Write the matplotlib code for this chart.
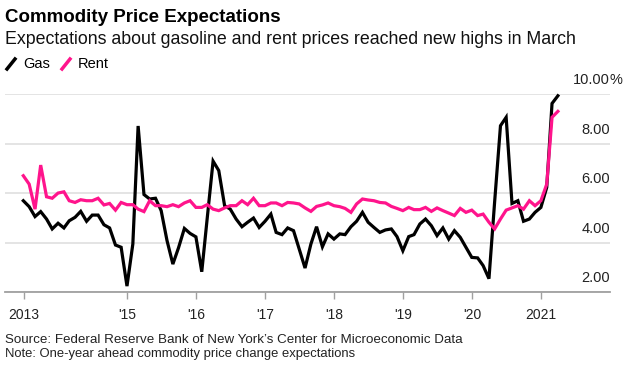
import matplotlib
matplotlib.use("Agg")
import matplotlib.pyplot as plt
import matplotlib.transforms as mtransforms
from matplotlib.lines import Line2D
import pandas as pd

plt.rcParams['font.family'] = ['Liberation Sans', 'DejaVu Sans']

# Expectativas mensais (fim de mês), jun/2013 a mar/2021
datas = pd.date_range('2013-06-30', '2021-03-31', freq='ME')

gas = [5.70, 5.46, 5.06, 5.26, 4.96, 4.56, 4.79, 4.60, 4.89, 5.03,
       5.27, 4.87, 5.12, 5.12, 4.73, 4.60, 3.91, 3.82, 2.25, 3.95,
       8.72, 5.95, 5.77, 5.80, 5.30, 4.09, 3.14, 3.80, 4.58, 4.38,
       4.24, 2.83, 5.00, 7.30, 6.92, 5.50, 5.36, 4.96, 4.65, 4.83,
       5.00, 4.62, 4.87, 5.16, 4.42, 4.33, 4.60, 4.49, 3.75, 2.98,
       3.95, 4.65, 3.84, 4.36, 4.15, 4.36, 4.33, 4.65, 4.87, 5.23,
       4.83, 4.62, 4.42, 4.52, 4.56, 4.25, 3.68, 4.25, 4.33, 4.76,
       4.96, 4.69, 4.29, 4.60, 4.15, 4.49, 4.22, 3.82, 3.41, 3.39,
       3.08, 2.55, 5.65, 8.73, 9.07, 5.59, 5.70, 4.87, 4.96, 5.23,
       5.43, 6.24, 9.63, 9.94]

rent = [6.71, 6.37, 5.36, 7.14, 5.86, 5.80, 6.01, 6.06, 5.70, 5.63,
        5.74, 5.70, 5.70, 5.80, 5.53, 5.59, 5.32, 5.63, 5.54, 5.54,
        5.36, 5.26, 5.70, 5.50, 5.50, 5.46, 5.54, 5.46, 5.61, 5.70,
        5.43, 5.43, 5.54, 5.36, 5.30, 5.41, 5.50, 5.50, 5.70, 5.54,
        5.80, 5.50, 5.50, 5.61, 5.61, 5.50, 5.63, 5.61, 5.57, 5.41,
        5.27, 5.47, 5.53, 5.61, 5.50, 5.46, 5.39, 5.23, 5.57, 5.77,
        5.73, 5.70, 5.63, 5.61, 5.47, 5.39, 5.30, 5.43, 5.34, 5.34,
        5.43, 5.27, 5.41, 5.30, 5.20, 5.10, 5.39, 5.23, 5.32, 5.10,
        5.16, 4.83, 4.56, 4.96, 5.32, 5.41, 5.50, 5.36, 5.70, 5.50,
        5.70, 6.37, 9.07, 9.31]

ticks_x = ['2013-07-01', '2015-01-01', '2016-01-01', '2017-01-01',
           '2018-01-01', '2019-01-01', '2020-01-01', '2021-01-01']
rotulos_x = ['2013', "'15", "'16", "'17", "'18", "'19", "'20", '2021']
ticks_y = [2, 4, 6, 8, 10]
rotulos_y = ['2.00', '4.00', '6.00', '8.00', '10.00']

cor_gas = 'black'
cor_rent = '#ff148c'

W, H = 634, 386
fig = plt.figure(figsize=(W / 100, H / 100), dpi=100)
ax = fig.add_axes([5 / W, 1 - 292.3 / H, 605 / W, 198 / H])

ax.plot(datas, gas, color=cor_gas, lw=2.3, solid_joinstyle='miter', clip_on=False, zorder=3)
ax.plot(datas, rent, color=cor_rent, lw=2.3, solid_joinstyle='miter', clip_on=False, zorder=4)

ax.set_xlim(pd.Timestamp('2013-03-25'), pd.Timestamp('2022-01-01'))
ax.set_ylim(2, 10)

for s in ['top', 'left', 'right']:
    ax.spines[s].set_visible(False)
ax.spines['bottom'].set_color('#a0a0a0')
ax.spines['bottom'].set_linewidth(1.3)

ax.set_yticks(ticks_y)
ax.yaxis.set_ticks_position('none')
ax.set_yticklabels([])
ax.grid(axis='y', color='#e2e2e2', lw=1.3)
ax.set_axisbelow(True)

ax.set_xticks(pd.to_datetime(ticks_x))
ax.set_xticklabels(rotulos_x)
ax.tick_params(axis='x', length=5, width=1, color='#a0a0a0', pad=6,
               labelsize=10, labelcolor='#222222')

# rótulos do eixo y acima das linhas de grade, à direita
trans = mtransforms.blended_transform_factory(ax.transAxes, ax.transData)
off = mtransforms.offset_copy(trans, fig=fig, x=0, y=5, units='points')
for v, r in zip(ticks_y, rotulos_y):
    ax.text(1.0, v, r, transform=off, ha='right', va='bottom', fontsize=10.5, color='#222222')
ax.text(1.0, 10, '%', transform=off, ha='left', va='bottom', fontsize=10.5, color='#222222')

# títulos
fig.text(5 / W, 1 - 17 / H, 'Commodity Price Expectations', fontsize=13.5,
         fontweight='bold', va='center', ha='left')
fig.text(5 / W, 1 - 40 / H,
         'Expectations about gasoline and rent prices reached new highs in March',
         fontsize=12.8, va='center', ha='left', color='#111111')

# legenda com traços diagonais
for x0, cor, nome in [(7, cor_gas, 'Gas'), (62, cor_rent, 'Rent')]:
    fig.add_artist(Line2D([x0 / W, (x0 + 8) / W], [1 - 69 / H, 1 - 59 / H],
                          color=cor, lw=2.5, transform=fig.transFigure))
    fig.text((x0 + 16) / W, 1 - 64 / H, nome, fontsize=10.5, va='center', ha='left')

fig.text(5 / W, 1 - 340 / H,
         "Source: Federal Reserve Bank of New York\u2019s Center for Microeconomic Data",
         fontsize=9.6, va='center', ha='left', color='#222222')
fig.text(5 / W, 1 - 354 / H, 'Note: One-year ahead commodity price change expectations',
         fontsize=9.4, va='center', ha='left', color='#222222')

fig.savefig('out.png', dpi=100)
